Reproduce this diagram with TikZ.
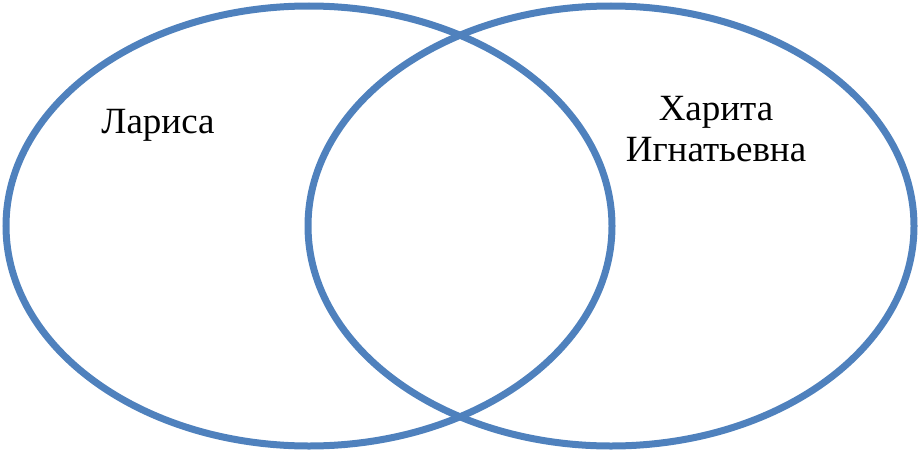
\documentclass[tikz,border=0pt]{standalone}
\usepackage{fontspec}
\setmainfont{Liberation Serif}
\definecolor{setblue}{HTML}{4F81BD}
\begin{document}
\begin{tikzpicture}[x=1pt, y=-1pt, set ring/.style={draw=setblue, line width=7pt}, name label/.style={font=\fontsize{37}{41}\selectfont, align=center}]
            \useasboundingbox (0,0) rectangle (920,452);

              \draw[set ring] (309,226) ellipse [x radius=303, y radius=220];
              \draw[set ring] (611,226) ellipse [x radius=303, y radius=220];

              \node[name label, anchor=base] (larisa) at (158,133) {Лариса};
              \node[name label, anchor=base] (harita) at (716,161) {Харита\\Игнатьевна};

            \end{tikzpicture}
\end{document}
